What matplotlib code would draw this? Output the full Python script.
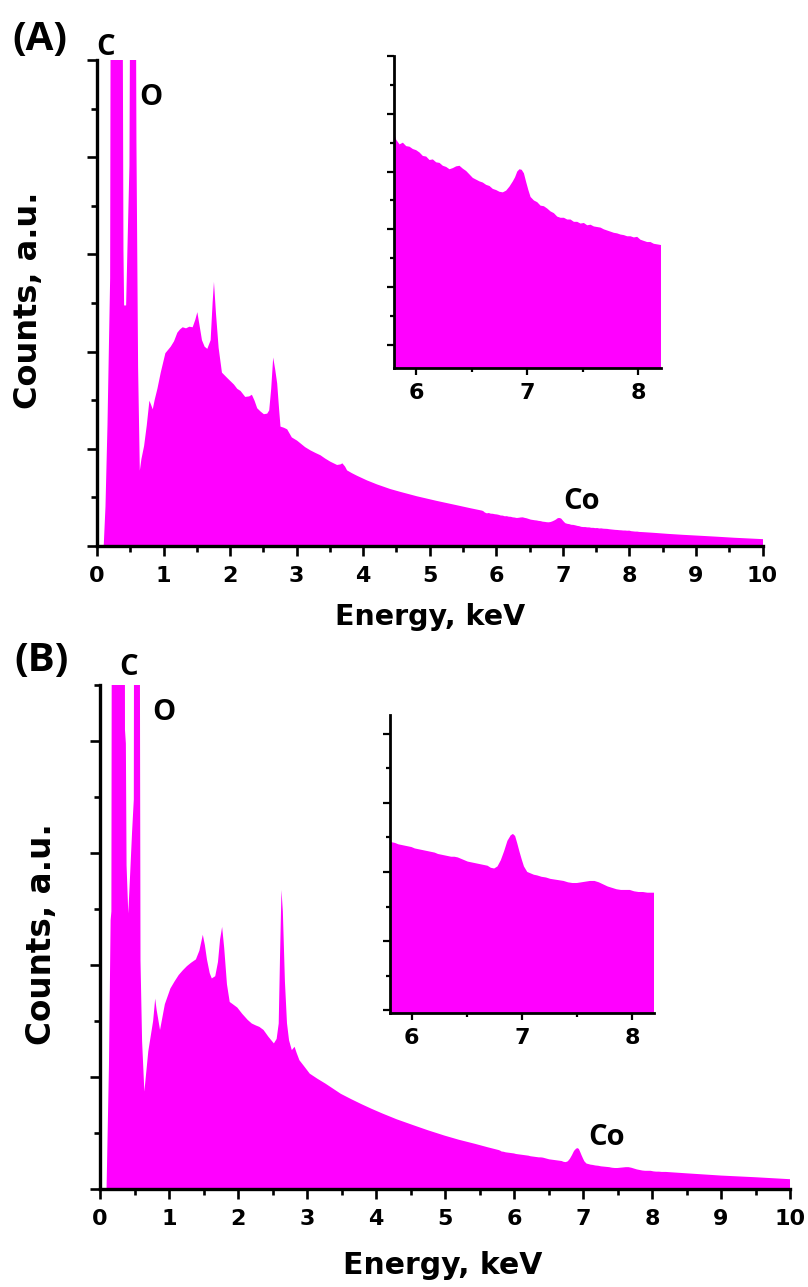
import matplotlib
matplotlib.use("Agg")
import matplotlib.pyplot as plt
from matplotlib.ticker import MultipleLocator

plt.rcParams['font.family'] = ['DejaVu Sans']

MAGENTA = '#FF00FF'

# ---------------- Panel A spectrum (energy keV, counts a.u.) ----------------
energy_A = [0.00, 0.08, 0.093, 0.12, 0.15, 0.19, 0.20, 0.21, 0.30, 0.37, 0.38, 0.39, 0.40,
            0.43, 0.45, 0.48, 0.49, 0.50, 0.57, 0.58, 0.585, 0.61, 0.636, 0.66, 0.70, 0.74,
            0.78, 0.80, 0.83, 0.86, 0.90, 0.95, 1.02, 1.06, 1.10, 1.15, 1.20, 1.24, 1.28,
            1.33, 1.38, 1.43, 1.47, 1.50, 1.53, 1.57, 1.61, 1.65, 1.70, 1.73, 1.75, 1.78,
            1.82, 1.87, 1.95, 2.00, 2.05, 2.10, 2.15, 2.22, 2.28, 2.32, 2.36, 2.40, 2.45,
            2.50, 2.55, 2.58, 2.61, 2.64, 2.67, 2.70, 2.73, 2.75, 2.80, 2.85, 2.92, 3.00,
            3.05, 3.12, 3.20, 3.28, 3.35, 3.42, 3.50, 3.60, 3.65, 3.68, 3.72, 3.75, 3.82,
            3.90, 4.05, 4.20, 4.40, 4.55, 4.80, 5.10, 5.40, 5.60, 5.78,
            5.80, 5.82, 5.85, 5.88, 5.91, 5.94, 5.97, 6.00, 6.03, 6.06, 6.09, 6.12, 6.15,
            6.18, 6.21, 6.24, 6.27, 6.30, 6.33, 6.36, 6.39, 6.42, 6.45, 6.48, 6.51, 6.54,
            6.57, 6.60, 6.63, 6.66, 6.69, 6.72, 6.75, 6.78, 6.81, 6.84, 6.87, 6.89, 6.91,
            6.93, 6.95, 6.97, 6.99, 7.01, 7.03, 7.06, 7.09, 7.12, 7.15, 7.18, 7.21, 7.24,
            7.27, 7.30, 7.33, 7.36, 7.39, 7.42, 7.45, 7.48, 7.51, 7.54, 7.57, 7.60, 7.63,
            7.66, 7.69, 7.72, 7.75, 7.78, 7.81, 7.84, 7.87, 7.90, 7.93, 7.96, 7.99, 8.02,
            8.05, 8.08, 8.11, 8.14, 8.17, 8.20,
            8.35, 8.57, 8.80, 9.07, 9.30, 9.57, 9.80, 10.00]
counts_A = [0, 300, 440, 809, 1565, 2924, 6500, 7500, 8000, 7000, 5200, 3185, 2672,
            2672, 3203, 3968, 5500, 6000, 5600, 5100, 4202, 2105, 1142, 1250, 1370, 1560,
            1790, 1760, 1710, 1800, 1900, 2050, 2230, 2260, 2290, 2340, 2420, 2450, 2470,
            2460, 2475, 2470, 2540, 2610, 2500, 2350, 2290, 2270, 2350, 2700, 2890, 2600,
            2280, 2050, 2000, 1970, 1940, 1900, 1880, 1825, 1830, 1845, 1790, 1720, 1690,
            1665, 1670, 1700, 1900, 2190, 2080, 1950, 1700, 1550, 1540, 1525, 1450, 1420,
            1395, 1360, 1330, 1305, 1285, 1255, 1225, 1195, 1200, 1210, 1180, 1145, 1120,
            1095, 1052, 1015, 972, 946, 905, 862, 822, 795, 772,
            766, 755, 747, 750, 744, 743, 739, 737, 733, 727, 726, 720, 721,
            716, 715, 710, 708, 704, 706, 709, 710, 705, 701, 695, 689, 686,
            683, 681, 677, 675, 670, 668, 665, 664, 667, 674, 683, 690, 700,
            704, 703, 697, 682, 668, 656, 650, 647, 641, 640, 636, 631, 628,
            622, 620, 620, 617, 617, 613, 613, 610, 611, 607, 608, 605, 604,
            603, 600, 598, 596, 594, 593, 591, 590, 588, 588, 586, 587, 582,
            580, 578, 578, 575, 574, 573,
            567, 557, 548, 539, 531, 521, 514, 508]

# ---------------- Panel B spectrum ----------------
energy_B = [0.00, 0.08, 0.095, 0.13, 0.154, 0.165, 0.18, 0.25, 0.355, 0.362, 0.375, 0.385,
            0.41, 0.44, 0.465, 0.49, 0.50, 0.53, 0.565, 0.575, 0.587, 0.61, 0.643, 0.70,
            0.77, 0.80, 0.82, 0.87, 0.94, 1.02, 1.08, 1.14, 1.20, 1.26, 1.32, 1.39, 1.44,
            1.49, 1.52, 1.55, 1.59, 1.62, 1.67, 1.71, 1.74, 1.77, 1.80, 1.84, 1.88, 1.93,
            1.99, 2.06, 2.14, 2.20, 2.26, 2.31, 2.37, 2.44, 2.52, 2.56, 2.59, 2.61, 2.63,
            2.65, 2.68, 2.71, 2.74, 2.78, 2.82, 2.85, 2.89, 2.95, 3.04, 3.15, 3.27, 3.38,
            3.49, 3.64, 3.79, 3.94, 4.09, 4.30, 4.54, 4.75, 4.99, 5.20, 5.44, 5.62, 5.78,
            5.80, 5.82, 5.85, 5.88, 5.91, 5.94, 5.97, 6.00, 6.03, 6.06, 6.09, 6.12, 6.15,
            6.18, 6.21, 6.24, 6.27, 6.30, 6.33, 6.36, 6.39, 6.42, 6.45, 6.48, 6.51, 6.54,
            6.57, 6.60, 6.63, 6.66, 6.69, 6.72, 6.75, 6.78, 6.81, 6.84, 6.87, 6.90, 6.92,
            6.94, 6.96, 6.98, 7.00, 7.02, 7.05, 7.08, 7.11, 7.14, 7.18, 7.22, 7.26, 7.30,
            7.34, 7.38, 7.42, 7.46, 7.50, 7.54, 7.58, 7.62, 7.66, 7.70, 7.74, 7.78, 7.82,
            7.86, 7.90, 7.94, 7.98, 8.02, 8.06, 8.10, 8.14, 8.20,
            8.50, 9.00, 9.50, 10.00]
counts_B = [0, 600, 709, 1153, 1669, 1700, 4500, 4800, 4300, 2349, 2300, 1865,
            1693, 1850, 1985, 2100, 4000, 4200, 3800, 3000, 1525, 1237, 1057, 1201,
            1309, 1389, 1350, 1277, 1369, 1425, 1450, 1473, 1490, 1505, 1517, 1529, 1560,
            1617, 1580, 1529, 1480, 1461, 1469, 1520, 1600, 1645, 1570, 1440, 1377, 1368,
            1357, 1335, 1313, 1300, 1293, 1288, 1277, 1253, 1229, 1245, 1300, 1550, 1777,
            1700, 1450, 1301, 1240, 1205, 1217, 1195, 1169, 1150, 1121, 1103, 1085, 1067,
            1049, 1030, 1012, 995, 979, 958, 937, 919, 900, 885, 870, 858, 848,
            846, 843, 842, 840, 839, 838, 837, 836, 834, 833, 832, 831, 830,
            829, 828, 826, 825, 824, 823, 822, 822, 821, 819, 817, 815, 814,
            813, 812, 811, 810, 809, 806, 805, 808, 817, 830, 845, 853, 855,
            852, 841, 829, 818, 808, 800, 798, 796, 795, 793, 792, 790, 789,
            788, 787, 785, 784, 784, 785, 786, 787, 787, 785, 782, 779, 777,
            775, 774, 774, 774, 772, 771, 771, 770, 770,
            765, 757, 751, 744]

xticks_main = [0, 1, 2, 3, 4, 5, 6, 7, 8, 9, 10]
xticks_inset = [6, 7, 8]

# element labels (text, x px, baseline y px) and panel letters
labels_A = [("C", 106, 55), ("O", 151, 105), ("Co", 582, 509)]
labels_B = [("C", 129, 675), ("O", 164, 720), ("Co", 607, 1145)]

W, H = 808, 1287
fig = plt.figure(figsize=(W / 100, H / 100), dpi=100)

TICKFONT = dict(family='DejaVu Sans', weight='bold', size=16)


def frac(x0, y0, x1, y1):
    return [x0 / W, 1 - y1 / H, (x1 - x0) / W, (y1 - y0) / H]


def style_main(ax, ylim, ymaj, ymin_):
    for s in ['top', 'right']:
        ax.spines[s].set_visible(False)
    for s in ['left', 'bottom']:
        ax.spines[s].set_linewidth(2.4)
    ax.set_xlim(0, 10)
    ax.set_ylim(*ylim)
    ax.set_xticks(xticks_main)
    ax.set_xticklabels([str(t) for t in xticks_main], fontdict=TICKFONT)
    ax.xaxis.set_minor_locator(MultipleLocator(0.5))
    ax.yaxis.set_major_locator(MultipleLocator(ymaj, offset=ylim[0]))
    ax.yaxis.set_minor_locator(MultipleLocator(ymin_, offset=ylim[0]))
    ax.set_yticklabels([])
    ax.tick_params(which='major', direction='out', length=7.5, width=1.9, pad=7)
    ax.tick_params(which='minor', direction='out', length=4.5, width=1.9)
    ax.patch.set_alpha(0)


def style_inset(ax, ylim):
    for s in ['top', 'right']:
        ax.spines[s].set_visible(False)
    for s in ['left', 'bottom']:
        ax.spines[s].set_linewidth(2.0)
    ax.set_xlim(5.8, 8.2)
    ax.set_ylim(*ylim)
    ax.set_xticks(xticks_inset)
    ax.set_xticklabels([str(t) for t in xticks_inset], fontdict=TICKFONT)
    ax.xaxis.set_minor_locator(MultipleLocator(0.5))
    ax.yaxis.set_major_locator(MultipleLocator(100))
    ax.yaxis.set_minor_locator(MultipleLocator(50))
    ax.set_yticklabels([])
    ax.tick_params(which='major', direction='out', length=5, width=1.6, pad=6)
    ax.tick_params(which='minor', direction='out', length=3, width=1.6)


# ---- Panel A ----
axA = fig.add_axes(frac(97, 60, 762.5, 546))
axA.fill_between(energy_A, counts_A, 0, color=MAGENTA, linewidth=0)
style_main(axA, (440, 4940), 900, 450)

insA = fig.add_axes(frac(394, 56, 660.5, 368))
insA.fill_between(energy_A, counts_A, 0, color=MAGENTA, linewidth=0)
style_inset(insA, (360, 900))

# ---- Panel B ----
axB = fig.add_axes(frac(100, 685, 790, 1189))
axB.fill_between(energy_B, counts_B, 0, color=MAGENTA, linewidth=0)
style_main(axB, (709, 2509), 400, 200)

insB = fig.add_axes(frac(389.5, 715, 654, 1013))
insB.fill_between(energy_B, counts_B, 0, color=MAGENTA, linewidth=0)
style_inset(insB, (596, 1027))

LABFONT = ['Open Sans', 'DejaVu Sans']
for labs in (labels_A, labels_B):
    for txt, px, py in labs:
        fig.text(px / W, 1 - py / H, txt, fontsize=21, fontweight='bold',
                 ha='center', va='baseline', family=LABFONT)

# axis titles
fig.text(28 / W, 1 - 300 / H, "Counts, a.u.", rotation=90, ha='center', va='center',
         fontsize=23, fontweight='bold')
fig.text(430 / W, 1 - 617 / H, "Energy, keV", ha='center', va='center',
         fontsize=20.5, fontweight='bold')
fig.text(42 / W, 1 - 934 / H, "Counts, a.u.", rotation=90, ha='center', va='center',
         fontsize=23.5, fontweight='bold')
fig.text(443 / W, 1 - 1265 / H, "Energy, keV", ha='center', va='center',
         fontsize=21.5, fontweight='bold')

# panel letters
fig.text(40 / W, 1 - 50 / H, "(A)", ha='center', va='baseline', fontsize=29,
         fontweight='bold', family=LABFONT)
fig.text(42 / W, 1 - 671 / H, "(B)", ha='center', va='baseline', fontsize=29,
         fontweight='bold', family=LABFONT)

fig.savefig("out.png", dpi=100)
